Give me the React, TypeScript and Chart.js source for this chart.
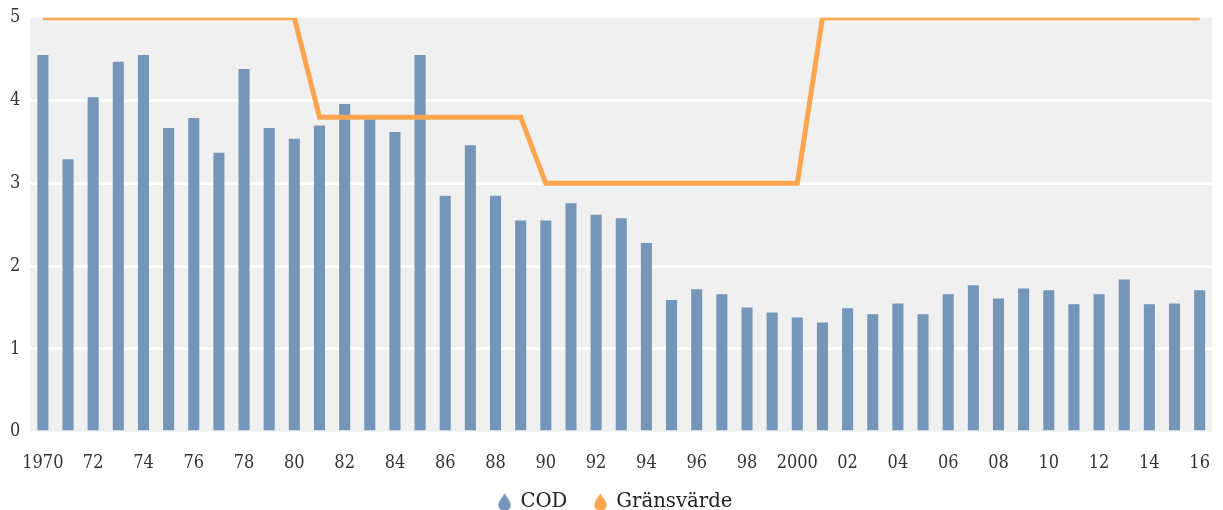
import React, { useEffect, useRef } from "react";
import { Chart, registerables } from "chart.js";

Chart.register(...registerables);

const years: number[] = Array.from({ length: 47 }, (_, i) => 1970 + i);
const codValues: number[] = [
  4.55, 3.29, 4.04, 4.47, 4.55, 3.67, 3.79, 3.37, 4.38, 3.67,
  3.54, 3.70, 3.96, 3.79, 3.62, 4.55, 2.85, 3.46, 2.85, 2.55,
  2.55, 2.76, 2.62, 2.58, 2.28, 1.59, 1.72, 1.66, 1.50, 1.44,
  1.38, 1.32, 1.49, 1.42, 1.55, 1.42, 1.66, 1.77, 1.61, 1.73,
  1.71, 1.54, 1.66, 1.84, 1.54, 1.55, 1.71,
];
const limitValues: number[] = [
  5, 5, 5, 5, 5, 5, 5, 5, 5, 5, 5,
  3.8, 3.8, 3.8, 3.8, 3.8, 3.8, 3.8, 3.8, 3.8,
  3, 3, 3, 3, 3, 3, 3, 3, 3, 3, 3,
  5, 5, 5, 5, 5, 5, 5, 5, 5, 5, 5, 5, 5, 5, 5, 5,
];
const seriesNames = ["COD", "Gränsvärde"];

const BLUE = "#7596b9";
const ORANGE = "#fba64f";
const TICK_FONT = "'DejaVu Serif Condensed', 'DejaVu Serif', serif";
const LEGEND_FONT = "'DejaVu Serif', serif";
const CANVAS_H = 547;
const LEGEND_SHIFT_Y = -22;
const LEGEND_SHIFT_X = 6;

function makeDrop(color: string): HTMLCanvasElement {
  const c = document.createElement("canvas");
  const w = 13, h = 19;
  c.width = w;
  c.height = h;
  const ctx = c.getContext("2d")!;
  ctx.fillStyle = color;
  ctx.beginPath();
  const cx = w / 2, r = 6.2, cy = h - r - 0.5;
  ctx.moveTo(cx, 0.5);
  ctx.bezierCurveTo(cx + 1.5, 4, cx + r, cy - 4, cx + r, cy);
  ctx.arc(cx, cy, r, 0, Math.PI, false);
  ctx.bezierCurveTo(cx - r, cy - 4, cx - 1.5, 4, cx, 0.5);
  ctx.closePath();
  ctx.fill();
  return c;
}

const bgPlugin = {
  id: "plotBg",
  afterLayout(chart: any) {
    const lg = chart.legend;
    if (lg) {
      lg.top += LEGEND_SHIFT_Y;
      lg.bottom += LEGEND_SHIFT_Y;
      lg.left += LEGEND_SHIFT_X;
      lg.right += LEGEND_SHIFT_X;
    }
  },
  beforeDraw(chart: any) {
    const { ctx, chartArea } = chart;
    ctx.save();
    ctx.fillStyle = "#f0f0f0";
    ctx.fillRect(chartArea.left, chartArea.top, chartArea.right - chartArea.left, chartArea.bottom - chartArea.top);
    ctx.restore();
  },
};

export default function App() {
  const ref = useRef<HTMLCanvasElement | null>(null);
  useEffect(() => {
    if (!ref.current) return;
    const drops = [makeDrop(BLUE), makeDrop(ORANGE)];
    const chart = new Chart(ref.current, {
      type: "bar",
      data: {
        labels: years.map(String),
        datasets: [
          {
            type: "line",
            label: seriesNames[1],
            data: limitValues,
            borderColor: ORANGE,
            backgroundColor: ORANGE,
            borderWidth: 5,
            pointRadius: 0,
            tension: 0,
            order: 0,
          } as any,
          {
            type: "bar",
            label: seriesNames[0],
            data: codValues,
            backgroundColor: BLUE,
            barPercentage: 0.44,
            categoryPercentage: 1,
            order: 1,
          },
        ],
      },
      options: {
        animation: false,
        responsive: false,
        layout: { padding: { top: 1, right: 4, left: 0, bottom: 0 } },
        scales: {
          x: {
            grid: { display: false },
            border: { display: false },
            ticks: {
              autoSkip: false,
              maxRotation: 0,
              padding: 13,
              color: "#333",
              font: { family: TICK_FONT, size: 18 },
              callback: (_v: any, i: number) => {
                const y = years[i];
                if (y % 2 !== 0) return "";
                if (y === 1970 || y === 2000) return String(y);
                return String(y % 100).padStart(2, "0");
              },
            },
          },
          y: {
            min: 0,
            max: 5,
            border: { display: false },
            grid: {
              color: (c: any) => (c.tick.value === 0 || c.tick.value === 5 ? "rgba(0,0,0,0)" : "#ffffff"),
              lineWidth: 3,
              drawTicks: false,
            },
            ticks: {
              stepSize: 1,
              padding: 10,
              color: "#333",
              font: { family: TICK_FONT, size: 18 },
            },
          },
        },
        plugins: {
          legend: {
            position: "bottom",
            reverse: true,
            labels: {
              usePointStyle: true,
              pointStyleWidth: 12,
              color: "#222",
              padding: 27,
              font: { family: LEGEND_FONT, size: 19.7 },
              generateLabels: (ch: any) => {
                const items = Chart.defaults.plugins.legend.labels.generateLabels(ch);
                return items.map((it: any) => ({
                  ...it,
                  pointStyle: drops[it.datasetIndex === 1 ? 0 : 1],
                }));
              },
            },
          },
          tooltip: { enabled: false },
        },
      },
      plugins: [bgPlugin],
    });
    return () => chart.destroy();
  }, []);
  return (
    <div style={{ position: "fixed", left: 0, top: 0, width: 1223, height: 510, overflow: "hidden", background: "#fff" }}>
      <canvas
        ref={ref}
        width={1223}
        height={CANVAS_H}
        style={{ width: 1223, height: CANVAS_H, display: "block", marginTop: -3 }}
      />
    </div>
  );
}
